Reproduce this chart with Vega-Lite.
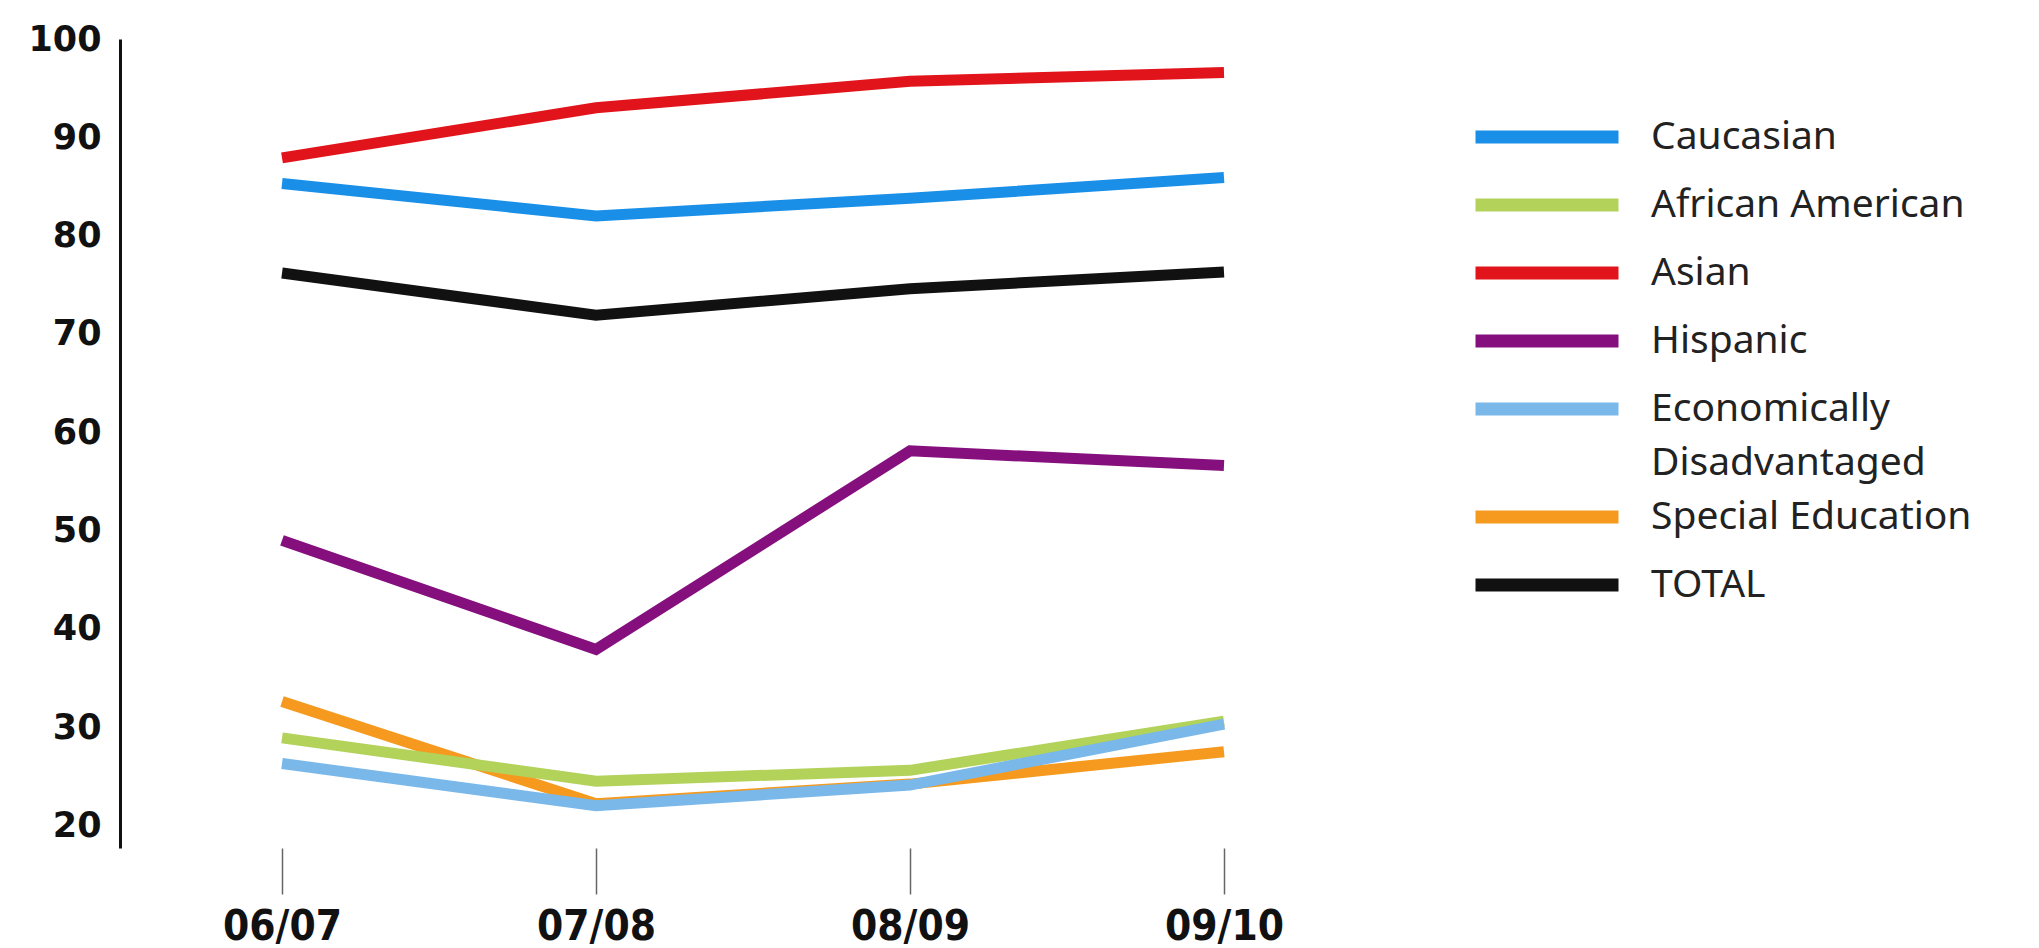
{
  "$schema": "https://vega.github.io/schema/vega-lite/v6.json",
  "width": 1266,
  "height": 809,
  "autosize": {"type": "none"},
  "padding": {"left": 120, "top": 39, "right": 653, "bottom": 100},
  "background": "white",
  "config": {"view": {"stroke": null}, "style": {"guide-label": {"lineHeight": 54}}},
  "data": {
    "values": [
      {"year": "06/07", "group": "Caucasian", "value": 85.3},
      {"year": "07/08", "group": "Caucasian", "value": 82.0},
      {"year": "08/09", "group": "Caucasian", "value": 83.8},
      {"year": "09/10", "group": "Caucasian", "value": 85.9},
      {"year": "06/07", "group": "Asian", "value": 87.9},
      {"year": "07/08", "group": "Asian", "value": 93.0},
      {"year": "08/09", "group": "Asian", "value": 95.7},
      {"year": "09/10", "group": "Asian", "value": 96.6},
      {"year": "06/07", "group": "TOTAL", "value": 76.2},
      {"year": "07/08", "group": "TOTAL", "value": 71.9},
      {"year": "08/09", "group": "TOTAL", "value": 74.6},
      {"year": "09/10", "group": "TOTAL", "value": 76.3},
      {"year": "06/07", "group": "Hispanic", "value": 49.0},
      {"year": "07/08", "group": "Hispanic", "value": 37.9},
      {"year": "08/09", "group": "Hispanic", "value": 58.1},
      {"year": "09/10", "group": "Hispanic", "value": 56.6},
      {"year": "06/07", "group": "Special Education", "value": 32.6},
      {"year": "07/08", "group": "Special Education", "value": 22.2},
      {"year": "08/09", "group": "Special Education", "value": 24.2},
      {"year": "09/10", "group": "Special Education", "value": 27.5},
      {"year": "06/07", "group": "African American", "value": 28.9},
      {"year": "07/08", "group": "African American", "value": 24.5},
      {"year": "08/09", "group": "African American", "value": 25.6},
      {"year": "09/10", "group": "African American", "value": 30.6},
      {"year": "06/07", "group": "Economically Disadvantaged", "value": 26.3},
      {"year": "07/08", "group": "Economically Disadvantaged", "value": 22.0},
      {"year": "08/09", "group": "Economically Disadvantaged", "value": 24.1},
      {"year": "09/10", "group": "Economically Disadvantaged", "value": 30.3}
    ]
  },
  "mark": {"type": "line", "strokeWidth": 11, "strokeCap": "butt", "strokeJoin": "miter"},
  "encoding": {
    "x": {
      "field": "year",
      "type": "ordinal",
      "scale": {"type": "point", "padding": 0.516},
      "axis": {
        "title": null,
        "domain": false,
        "ticks": true,
        "tickSize": 46,
        "tickColor": "#666666",
        "tickWidth": 1.5,
        "labelPadding": 12,
        "labelAngle": 0,
        "labelFont": "Liberation Sans Narrow, DejaVu Sans Condensed, Roboto",
        "labelFontSize": 42,
        "labelFontWeight": "bold",
        "labelColor": "#111111",
        "grid": false
      }
    },
    "y": {
      "field": "value",
      "type": "quantitative",
      "scale": {"domain": [17.7, 100], "nice": false, "zero": false},
      "axis": {
        "title": null,
        "values": [20, 30, 40, 50, 60, 70, 80, 90, 100],
        "domain": true,
        "domainColor": "#111111",
        "domainWidth": 3,
        "ticks": false,
        "grid": false,
        "labelPadding": 19,
        "labelFont": "DejaVu Sans",
        "labelFontSize": 35,
        "labelFontWeight": "bold",
        "labelColor": "#111111"
      }
    },
    "color": {
      "field": "group",
      "type": "nominal",
      "scale": {
        "domain": ["Caucasian", "African American", "Asian", "Hispanic", "Economically Disadvantaged", "Special Education", "TOTAL"],
        "range": ["#1a8fe8", "#b3d25a", "#e2141b", "#860f7e", "#7ab8ea", "#f59a1e", "#111111"]
      },
      "legend": {
        "title": null,
        "orient": "none",
        "legendX": 1349,
        "legendY": 64,
        "symbolType": "stroke",
        "symbolSize": 20449,
        "symbolStrokeWidth": 13,
        "symbolOpacity": 1,
        "clipHeight": 68,
        "labelFont": "Noto Sans",
        "labelFontSize": 39,
        "labelColor": "#222222",
        "labelOffset": 26,
        "labelLimit": 600,
        "rowPadding": 0,
        "labelExpr": "datum.label == 'Economically Disadvantaged' ? ['Economically', 'Disadvantaged'] : datum.label"
      }
    }
  }
}
